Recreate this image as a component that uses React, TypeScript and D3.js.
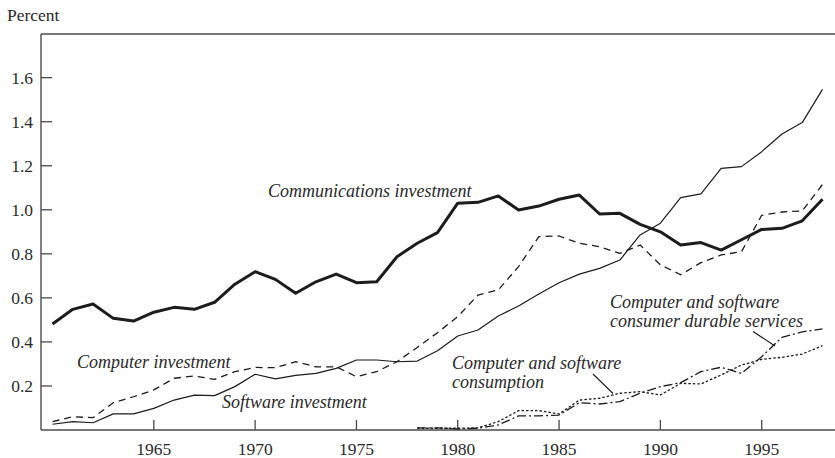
import React from 'react';
import * as d3 from 'd3';

const years = d3.range(1960, 1999);
const consYears = d3.range(1978, 1999);

const communications = [
  0.481, 0.548, 0.572, 0.507, 0.495, 0.535, 0.557, 0.548, 0.58, 0.662,
  0.719, 0.684, 0.621, 0.673, 0.708, 0.669, 0.673, 0.787, 0.848, 0.896,
  1.03, 1.034, 1.063, 0.999, 1.017, 1.048, 1.067, 0.981, 0.984, 0.934,
  0.9, 0.84, 0.851, 0.817, 0.864, 0.911, 0.916, 0.95, 1.048,
];
const software = [
  0.026, 0.038, 0.033, 0.073, 0.073, 0.098, 0.136, 0.158, 0.156, 0.197,
  0.253, 0.232, 0.248, 0.257, 0.28, 0.318, 0.318, 0.31, 0.313, 0.36,
  0.427, 0.454, 0.518, 0.563, 0.618, 0.669, 0.708, 0.734, 0.772, 0.886,
  0.939, 1.055, 1.072, 1.188, 1.196, 1.264, 1.344, 1.396, 1.547,
];
const computer = [
  0.038, 0.06, 0.056, 0.124, 0.151, 0.182, 0.235, 0.245, 0.23, 0.265,
  0.284, 0.283, 0.31, 0.287, 0.287, 0.242, 0.265, 0.31, 0.375, 0.442,
  0.515, 0.613, 0.636, 0.742, 0.878, 0.881, 0.848, 0.832, 0.802, 0.84,
  0.75, 0.705, 0.76, 0.795, 0.81, 0.975, 0.99, 0.995, 1.115,
];
const consumption = [
  0.008, 0.008, 0.008, 0.01, 0.038, 0.088, 0.088, 0.073, 0.136, 0.144,
  0.167, 0.174, 0.159, 0.212, 0.209, 0.25, 0.295, 0.321, 0.33, 0.345, 0.383,
];
const durables = [
  0.01, 0.01, 0.005, 0.008, 0.023, 0.064, 0.064, 0.068, 0.124, 0.118,
  0.129, 0.167, 0.197, 0.215, 0.265, 0.285, 0.257, 0.333, 0.421, 0.446, 0.459,
];

const xTicks = [1965, 1970, 1975, 1980, 1985, 1990, 1995];
const yTicks = [0.2, 0.4, 0.6, 0.8, 1.0, 1.2, 1.4, 1.6];

const W = 835;
const H = 458;
const left = 41;
const top = 34;
const bottom = 430;

const font = '"Liberation Serif", "Times New Roman", serif';
const ink = '#1c1c1c';
const axisInk = '#4a4a4a';

const x = d3.scaleLinear().domain([1960, 1998]).range([52.5, 822.5]);
const y = d3.scaleLinear().domain([0, 1.8]).range([bottom, bottom - 1.8 * 220.2]);

const line = d3.line<[number, number]>()
  .x(d => x(d[0]))
  .y(d => y(d[1]));

const pts = (xs: number[], vs: number[]) => xs.map((yr, i) => [yr, vs[i]] as [number, number]);

const series = [
  { name: 'computer', d: pts(years, computer), w: 1.3, dash: '7,5' },
  { name: 'software', d: pts(years, software), w: 1.2, dash: undefined },
  { name: 'consumption', d: pts(consYears, consumption), w: 1.3, dash: '2.5,2' },
  { name: 'durables', d: pts(consYears, durables), w: 1.3, dash: '9,3,2,3' },
  { name: 'communications', d: pts(years, communications), w: 3, dash: undefined },
];

const labelStyle: React.CSSProperties = {
  fontFamily: font,
  fontStyle: 'italic',
  fontSize: 18,
  fill: '#2a2a2a',
};

export default function App() {
  return (
    <svg
      width={W}
      height={H}
      style={{ position: 'absolute', left: 0, top: 0, background: '#fff' }}
    >
      <text x={7} y={21} style={{ fontFamily: font, fontSize: 17.5, fill: '#2a2a2a' }}>
        Percent
      </text>

      {/* frame */}
      <line x1={left} x2={W} y1={top} y2={top} stroke={axisInk} strokeWidth={1.4} />
      <line x1={left} x2={left} y1={top} y2={bottom} stroke={axisInk} strokeWidth={1.4} />
      <line x1={left} x2={W} y1={bottom} y2={bottom} stroke={axisInk} strokeWidth={1.4} />

      {yTicks.map(t => (
        <g key={t}>
          <line x1={left} x2={left + 11} y1={y(t)} y2={y(t)} stroke={axisInk} strokeWidth={1.3} />
          <text
            x={33}
            y={y(t)}
            dy="0.35em"
            textAnchor="end"
            style={{ fontFamily: font, fontSize: 17.5, fill: '#2a2a2a' }}
          >
            {t.toFixed(1)}
          </text>
        </g>
      ))}

      {xTicks.map(t => (
        <g key={t}>
          <line x1={x(t)} x2={x(t)} y1={bottom} y2={bottom - 10} stroke={axisInk} strokeWidth={1.3} />
          <text
            x={x(t)}
            y={455}
            textAnchor="middle"
            style={{ fontFamily: font, fontSize: 17.5, fill: '#2a2a2a' }}
          >
            {t}
          </text>
        </g>
      ))}

      {series.map(s => (
        <path
          key={s.name}
          d={line(s.d) || ''}
          fill="none"
          stroke={ink}
          strokeWidth={s.w}
          strokeDasharray={s.dash}
          strokeLinejoin="round"
        />
      ))}

      <text x={268} y={197} style={labelStyle}>Communications investment</text>
      <text x={77} y={368} style={labelStyle}>Computer investment</text>
      <text x={222} y={408} style={labelStyle}>Software investment</text>

      <text x={452} y={368.5} style={labelStyle}>Computer and software</text>
      <text x={452} y={387.5} style={labelStyle}>consumption</text>
      <line x1={593} y1={374} x2={613} y2={393.5} stroke={ink} strokeWidth={1.1} />

      <text x={610} y={307.5} style={labelStyle}>Computer and software</text>
      <text x={610} y={326.5} style={labelStyle}>consumer durable services</text>
      <line x1={753} y1={331.5} x2={775} y2={346} stroke={ink} strokeWidth={1.1} />
    </svg>
  );
}
